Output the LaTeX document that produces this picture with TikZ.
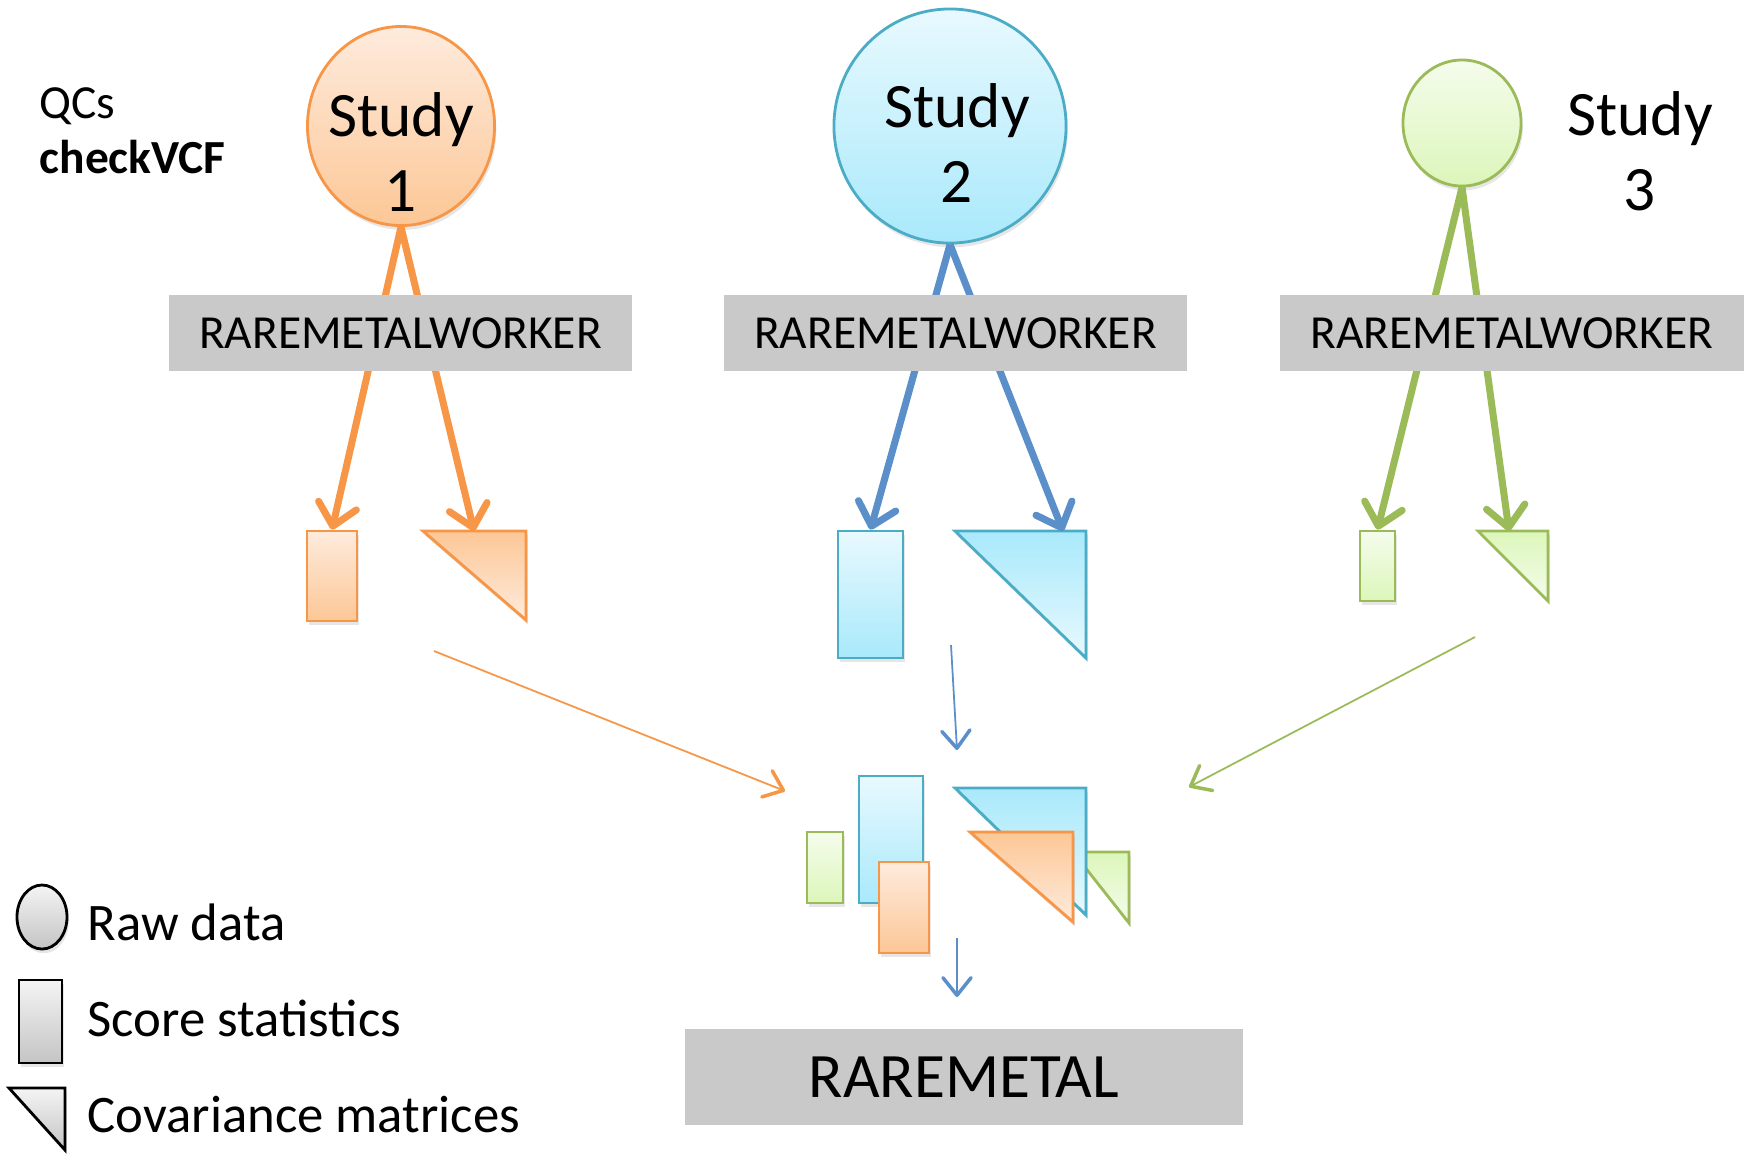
\documentclass[tikz,border=0pt]{standalone}
\usepackage{fontspec}
\setmainfont{Carlito}
\usetikzlibrary{shapes.geometric, arrows.meta, shadows}

\definecolor{orangeline}{HTML}{F79646}
\definecolor{orangetop}{HTML}{FEEBDD}
\definecolor{orangebot}{HTML}{FCC796}
\definecolor{blueline}{HTML}{4BACC6}
\definecolor{bluetop}{HTML}{E8F9FE}
\definecolor{bluebot}{HTML}{A9E9FB}
\definecolor{bluearrow}{HTML}{5B8FC9}
\definecolor{greenline}{HTML}{9BBB59}
\definecolor{greentop}{HTML}{F5FCEC}
\definecolor{greenbot}{HTML}{DCF6BA}
\definecolor{boxgray}{HTML}{C9C9C9}
\definecolor{legtop}{HTML}{F4F4F4}
\definecolor{legbot}{HTML}{C4C4C4}

\tikzset{
  soft/.style={drop shadow={opacity=0.2, shadow xshift=0.5pt, shadow yshift=-1.2pt}},
  raw/.style={ellipse, draw, line width=0.8pt, inner sep=0pt, soft},
  score/.style={rectangle, draw, line width=0.8pt, inner sep=0pt, soft},
  cov/.style={draw, line width=0.8pt, line join=miter, soft},
  orangeup/.style={draw=orangeline, top color=orangetop, bottom color=orangebot},
  orangedown/.style={draw=orangeline, top color=orangebot, bottom color=orangetop},
  blueup/.style={draw=blueline, top color=bluetop, bottom color=bluebot},
  bluedown/.style={draw=blueline, top color=bluebot, bottom color=bluetop},
  greenup/.style={draw=greenline, top color=greentop, bottom color=greenbot},
  greendown/.style={draw=greenline, top color=greenbot, bottom color=greentop},
  legend/.style={draw=black, top color=legtop, bottom color=legbot},
  tool/.style={fill=boxgray, inner sep=0pt, minimum width=4.63cm, minimum height=0.76cm,
    font=\fontsize{13.5}{16}\selectfont},
  studytext/.style={align=center, inner sep=0pt, font=\fontsize{18}{21.3}\selectfont},
  legtext/.style={anchor=west, inner sep=0pt, font=\fontsize{15}{18}\selectfont},
  flow/.style={line width=2pt, -{Straight Barb[length=6pt, width=11pt, round]}},
  merge/.style={line width=0.5pt, -{Straight Barb[length=5pt, width=8pt, line width=1pt, round]}}
}

\begin{document}
\begin{tikzpicture}[x=0.01cm, y=-0.01cm]
  \useasboundingbox (0,0) rectangle (1746,1153);

  % studies
  \node[raw, orangeup, minimum width=1.87cm, minimum height=1.99cm] (raw1) at (401,126) {};
  \node[raw, blueup, minimum width=2.32cm, minimum height=2.34cm] (raw2) at (950,126) {};
  \node[raw, greenup, minimum width=1.18cm, minimum height=1.26cm] (raw3) at (1462,123) {};
  \node[studytext] (lab1) at (401,152) {Study\\1};
  \node[studytext] (lab2) at (957,143) {Study\\2};
  \node[studytext] (lab3) at (1640,151) {Study\\3};
  \node[anchor=west, align=left, inner sep=0pt, font=\fontsize{13.5}{15.6}\selectfont] (qc) at (39,131) {QCs\\\textbf{checkVCF}};

  % score statistics and covariance matrices per study
  \node[score, orangeup, minimum width=0.50cm, minimum height=0.90cm] (sc1) at (332,576) {};
  \node[score, blueup, minimum width=0.65cm, minimum height=1.27cm] (sc2) at (870.5,594.5) {};
  \node[score, greenup, minimum width=0.35cm, minimum height=0.70cm] (sc3) at (1377.5,566) {};
  \draw[cov, orangedown] (423,531) -- (526,531) -- (526,620) -- cycle;
  \draw[cov, bluedown] (955,531) -- (1086,531) -- (1086,658) -- cycle;
  \draw[cov, greendown] (1478,531) -- (1548,531) -- (1548,601) -- cycle;
  \coordinate (cv1) at (474,531);
  \coordinate (cv2) at (1063,531);
  \coordinate (cv3) at (1509,531);

  \draw[flow, orangeline] (raw1.south) -- (sc1.north);
  \draw[flow, orangeline] (raw1.south) -- (cv1);
  \draw[flow, bluearrow] (raw2.south) -- (sc2.north);
  \draw[flow, bluearrow] (raw2.south) -- (cv2);
  \draw[flow, greenline] (raw3.south) -- (sc3.north);
  \draw[flow, greenline] (raw3.south) -- (cv3);

  \node[tool] (rmw1) at (400.5,333) {RAREMETALWORKER};
  \node[tool] (rmw2) at (955.5,333) {RAREMETALWORKER};
  \node[tool] (rmw3) at (1512,333) {RAREMETALWORKER};

  % merged summary statistics
  \node[score, greenup, minimum width=0.36cm, minimum height=0.71cm] (all3) at (825,867.5) {};
  \node[score, blueup, minimum width=0.64cm, minimum height=1.27cm] (all2) at (891,839.5) {};
  \node[score, orangeup, minimum width=0.50cm, minimum height=0.91cm] (all1) at (904,907.5) {};
  \draw[cov, greendown] (1073,852) -- (1129,852) -- (1129,923) -- cycle;
  \draw[cov, bluedown] (955,788) -- (1086,788) -- (1086,915) -- cycle;
  \draw[cov, orangedown] (970,832) -- (1073,832) -- (1073,922) -- cycle;

  \coordinate (m1a) at (434,651);
  \coordinate (m1b) at (785,791);
  \coordinate (m2a) at (951,645);
  \coordinate (m2b) at (957,750);
  \coordinate (m3a) at (1475,637);
  \coordinate (m3b) at (1189,787);
  \coordinate (ra) at (957,938);
  \coordinate (rb) at (957,997);
  \draw[merge, orangeline] (m1a) -- (m1b);
  \draw[merge, bluearrow] (m2a) -- (m2b);
  \draw[merge, greenline] (m3a) -- (m3b);
  \draw[merge, bluearrow] (ra) -- (rb);

  \node[fill=boxgray, inner sep=0pt, minimum width=5.58cm, minimum height=0.96cm,
    font=\fontsize{18}{21}\selectfont] (rm) at (964,1077) {RAREMETAL};

  % legend
  \node[raw, legend, minimum width=0.50cm, minimum height=0.64cm] (legraw) at (42,917) {};
  \node[score, legend, minimum width=0.43cm, minimum height=0.83cm] (legsc) at (40.5,1021.5) {};
  \draw[cov, legend] (9,1088) -- (65,1088) -- (65,1150) -- cycle;
  \node[legtext] (t1) at (87,922) {Raw data};
  \node[legtext] (t2) at (87,1018) {Score statistics};
  \node[legtext] (t3) at (87,1115) {Covariance matrices};
\end{tikzpicture}
\end{document}
